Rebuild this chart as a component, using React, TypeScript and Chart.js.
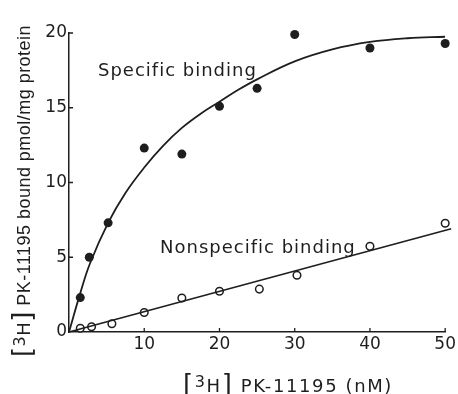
import React, { useEffect, useRef } from 'react';
import { Chart, registerables } from 'chart.js';

Chart.register(...registerables);

// ---- data ----
const concSpecific = [1.5, 2.7, 5.2, 10, 15, 20, 25, 30, 40, 50];
const boundSpecific = [2.3, 5.0, 7.3, 12.3, 11.9, 15.1, 16.3, 19.9, 19.0, 19.3];

const concNonspecific = [1.5, 3.0, 5.7, 10, 15, 20, 25.3, 30.3, 40, 50];
const boundNonspecific = [0.25, 0.35, 0.55, 1.3, 2.27, 2.73, 2.87, 3.8, 5.73, 7.27];

const fitSpecificX = [0, 1.5, 2.8, 5.2, 7.5, 10, 12.5, 15, 17.5, 20, 22.5, 25, 30, 35, 40, 45, 50];
const fitSpecificY = [0, 2.6, 4.6, 7.3, 9.3, 11.0, 12.45, 13.65, 14.6, 15.4, 16.2, 16.9, 18.1, 18.9, 19.4, 19.65, 19.75];

const fitNonspecificX = [0, 50.8];
const fitNonspecificY = [0, 6.9];

const xTickValues = [10, 20, 30, 40, 50];
const yTickValues = [0, 5, 10, 15, 20];

const labelSpecific = 'Specific binding';
const labelNonspecific = 'Nonspecific binding';
const xTitleText = ' PK-11195 (nM)';
const yTitleText = ' PK-11195 bound pmol/mg protein';

const INK = '#1e1e1e';
const FONT = '"DejaVu Sans", sans-serif';
const NARROW_FONT = '"Liberation Sans", Arial, sans-serif';

const toPoints = (xs: number[], ys: number[]) => xs.map((x, i) => ({ x, y: ys[i] }));

type Part = { text: string; size: number; dy: number; font: string };

function drawRich(ctx: CanvasRenderingContext2D, parts: Part[], x: number, y: number, target: number) {
  let natural = 0;
  let chars = 0;
  ctx.letterSpacing = '0px';
  for (const p of parts) {
    ctx.font = `${p.size}px ${p.font}`;
    natural += ctx.measureText(p.text).width;
    chars += p.text.length;
  }
  const spacing = Math.max(-1, (target - natural) / Math.max(1, chars));
  ctx.letterSpacing = `${spacing}px`;
  let cx = x;
  for (const p of parts) {
    ctx.font = `${p.size}px ${p.font}`;
    ctx.fillText(p.text, cx, y + p.dy);
    cx += ctx.measureText(p.text).width;
  }
}

const titleParts = (rest: string, restFont: string): Part[] => [
  { text: '[', size: 26, dy: 1, font: FONT },
  { text: '3', size: 16, dy: -5, font: FONT },
  { text: 'H', size: 18, dy: 0, font: FONT },
  { text: ']', size: 26, dy: 1, font: FONT },
  { text: rest, size: 18, dy: 0, font: restFont },
];

const decorPlugin = {
  id: 'decor',
  afterDraw(chart: any) {
    const { ctx, chartArea, scales } = chart;
    const xs = scales.x;
    const ys = scales.y;
    ctx.save();
    ctx.strokeStyle = INK;
    ctx.lineWidth = 1.3;
    ctx.beginPath();
    for (const v of yTickValues) {
      if (v === 0) continue;
      const py = ys.getPixelForValue(v);
      ctx.moveTo(chartArea.left, py);
      ctx.lineTo(chartArea.left + 4, py);
    }
    for (const v of xTickValues) {
      const px = xs.getPixelForValue(v);
      ctx.moveTo(px, chartArea.bottom);
      ctx.lineTo(px, chartArea.bottom - 4);
    }
    ctx.stroke();

    ctx.fillStyle = INK;
    ctx.textBaseline = 'alphabetic';
    ctx.textAlign = 'left';
    ctx.font = `18px ${FONT}`;
    ctx.letterSpacing = '1px';
    ctx.fillText(labelSpecific, xs.getPixelForValue(3.85), ys.getPixelForValue(17.1));
    ctx.fillText(labelNonspecific, xs.getPixelForValue(12.1), ys.getPixelForValue(5.27));

    drawRich(ctx, titleParts(xTitleText, FONT), 183, 392, 210);

    ctx.translate(30, 357);
    ctx.rotate(-Math.PI / 2);
    drawRich(ctx, titleParts(yTitleText, NARROW_FONT), 0, 0, 332);
    ctx.restore();
  },
};

export default function App() {
  const ref = useRef<HTMLCanvasElement | null>(null);

  useEffect(() => {
    document.body.style.margin = '0';
    document.body.style.background = '#ffffff';
    const canvas = ref.current;
    if (!canvas) return;
    const chart = new Chart(canvas, {
      type: 'scatter',
      data: {
        datasets: [
          {
            type: 'line',
            label: 'Specific fit',
            data: toPoints(fitSpecificX, fitSpecificY),
            borderColor: INK,
            borderWidth: 1.8,
            pointRadius: 0,
            tension: 0.4,
            fill: false,
          },
          {
            type: 'line',
            label: 'Nonspecific fit',
            data: toPoints(fitNonspecificX, fitNonspecificY),
            borderColor: INK,
            borderWidth: 1.6,
            pointRadius: 0,
            fill: false,
            clip: false,
          },
          {
            label: 'Specific binding',
            data: toPoints(concSpecific, boundSpecific),
            backgroundColor: INK,
            borderColor: INK,
            pointRadius: 4.5,
            borderWidth: 0,
            showLine: false,
            clip: false,
          },
          {
            label: 'Nonspecific binding',
            data: toPoints(concNonspecific, boundNonspecific),
            backgroundColor: '#ffffff',
            borderColor: INK,
            pointRadius: 3.8,
            borderWidth: 1.5,
            showLine: false,
            clip: false,
          },
        ],
      } as any,
      options: {
        animation: false,
        responsive: false,
        maintainAspectRatio: false,
        layout: { padding: { top: 33, right: 8, left: 0, bottom: 0 } },
        plugins: { legend: { display: false }, tooltip: { enabled: false } },
        scales: {
          x: {
            type: 'linear',
            min: 0,
            max: 50,
            afterFit: (s: any) => { s.height = 62; },
            afterBuildTicks: (s: any) => { s.ticks = xTickValues.map((v) => ({ value: v })); },
            grid: { display: false, drawTicks: false },
            border: { display: true, color: INK, width: 1.5 },
            ticks: {
              color: INK,
              padding: 2,
              maxRotation: 0,
              font: { family: FONT, size: 17 },
            },
          },
          y: {
            type: 'linear',
            min: 0,
            max: 20,
            afterFit: (s: any) => { s.width = 69; },
            afterBuildTicks: (s: any) => { s.ticks = yTickValues.map((v) => ({ value: v })); },
            grid: { display: false, drawTicks: false },
            border: { display: true, color: INK, width: 1.5 },
            ticks: {
              color: INK,
              padding: 2,
              font: { family: FONT, size: 17 },
            },
          },
        },
      },
      plugins: [decorPlugin],
    });
    return () => chart.destroy();
  }, []);

  return (
    <div style={{ width: 458, height: 394, background: '#fff' }}>
      <canvas ref={ref} width={458} height={394} style={{ display: 'block', width: 458, height: 394 }} />
    </div>
  );
}
